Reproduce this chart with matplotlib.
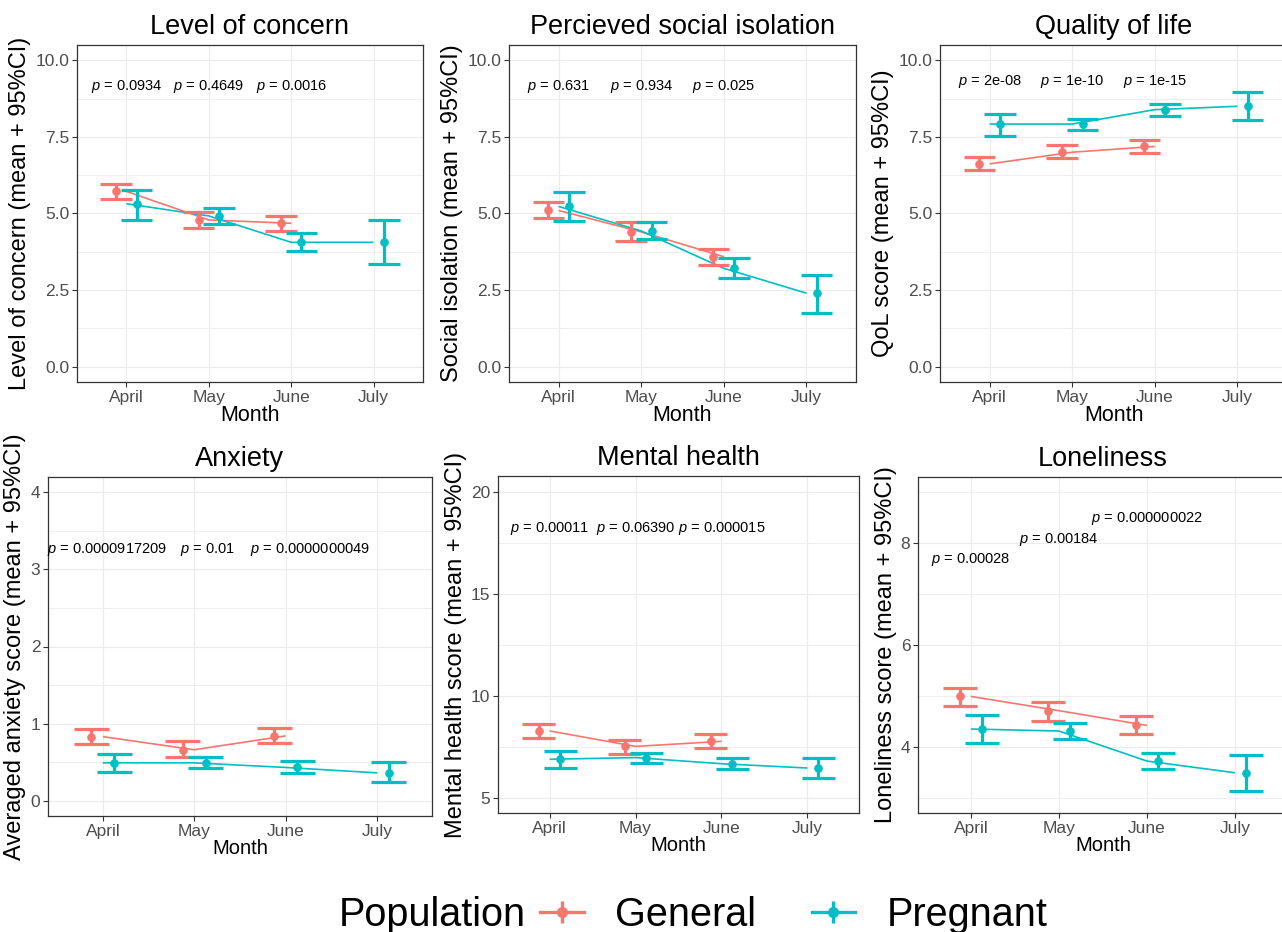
import matplotlib
matplotlib.use("Agg")
import matplotlib.pyplot as plt
from matplotlib.lines import Line2D
import numpy as np

plt.rcParams['font.family'] = ['Liberation Sans', 'DejaVu Sans']
plt.rcParams['mathtext.fontset'] = 'custom'
plt.rcParams['mathtext.rm'] = 'Liberation Sans'
plt.rcParams['mathtext.it'] = 'Liberation Sans:italic'

# ---------------- data ----------------
months = ["April", "May", "June", "July"]
populations = ["General", "Pregnant"]

concern_gen_mean = [5.72, 4.79, 4.68]
concern_gen_lo = [5.47, 4.54, 4.42]
concern_gen_hi = [5.96, 5.04, 4.91]
concern_preg_mean = [5.32, 4.92, 4.06, 4.06]
concern_preg_lo = [4.79, 4.67, 3.78, 3.36]
concern_preg_hi = [5.78, 5.17, 4.35, 4.79]
concern_p = ["0.0934", "0.4649", "0.0016"]

social_gen_mean = [5.10, 4.40, 3.59]
social_gen_lo = [4.85, 4.11, 3.32]
social_gen_hi = [5.36, 4.71, 3.83]
social_preg_mean = [5.23, 4.43, 3.21, 2.40]
social_preg_lo = [4.74, 4.16, 2.91, 1.76]
social_preg_hi = [5.70, 4.71, 3.54, 2.98]
social_p = ["0.631", "0.934", "0.025"]

qol_gen_mean = [6.62, 7.00, 7.19]
qol_gen_lo = [6.41, 6.80, 6.96]
qol_gen_hi = [6.84, 7.22, 7.41]
qol_preg_mean = [7.92, 7.92, 8.39, 8.50]
qol_preg_lo = [7.52, 7.73, 8.17, 8.05]
qol_preg_hi = [8.25, 8.09, 8.58, 8.95]
qol_p = ["2e-08", "1e-10", "1e-15"]

anx_gen_mean = [0.83, 0.66, 0.84]
anx_gen_lo = [0.74, 0.57, 0.75]
anx_gen_hi = [0.93, 0.77, 0.94]
anx_preg_mean = [0.49, 0.49, 0.43, 0.36]
anx_preg_lo = [0.37, 0.42, 0.36, 0.24]
anx_preg_hi = [0.60, 0.56, 0.51, 0.50]
anx_p = ["0.0000917209", "0.01", "0.0000000049"]

mh_gen_mean = [8.28, 7.52, 7.77]
mh_gen_lo = [7.93, 7.16, 7.46]
mh_gen_hi = [8.64, 7.82, 8.11]
mh_preg_mean = [6.89, 6.97, 6.67, 6.46]
mh_preg_lo = [6.48, 6.70, 6.39, 5.98]
mh_preg_hi = [7.30, 7.21, 6.97, 6.97]
mh_p = ["0.00011", "0.06390", "0.000015"]

lon_gen_mean = [4.99, 4.71, 4.42]
lon_gen_lo = [4.81, 4.50, 4.25]
lon_gen_hi = [5.16, 4.88, 4.60]
lon_preg_mean = [4.35, 4.31, 3.72, 3.49]
lon_preg_lo = [4.07, 4.16, 3.57, 3.14]
lon_preg_hi = [4.63, 4.46, 3.87, 3.84]
lon_p = ["0.00028", "0.00184", "0.000000022"]

# ---------------- styling / layout ----------------
COL_GEN = "#F8766D"
COL_PREG = "#00BFC4"
W, H = 1282, 932

def rect(l, r, t, b):
    return [l / W, (H - b) / H, (r - l) / W, (b - t) / H]

panels = [
    dict(title="Level of concern", ylabel="Level of concern (mean + 95%CI)",
         gen=(concern_gen_mean, concern_gen_lo, concern_gen_hi),
         preg=(concern_preg_mean, concern_preg_lo, concern_preg_hi),
         p=concern_p, px=[1, 2, 3], py=[9.15, 9.15, 9.15],
         ylim=(-0.5, 10.5), yt=[0, 2.5, 5, 7.5, 10], ytl=["0.0", "2.5", "5.0", "7.5", "10.0"],
         minor=[1.25, 3.75, 6.25, 8.75], pos=rect(77, 423, 45, 382), xl=15.5),
    dict(title="Percieved social isolation", ylabel="Social isolation (mean + 95%CI)",
         gen=(social_gen_mean, social_gen_lo, social_gen_hi),
         preg=(social_preg_mean, social_preg_lo, social_preg_hi),
         p=social_p, px=[1, 2, 3], py=[9.15, 9.15, 9.15],
         ylim=(-0.5, 10.5), yt=[0, 2.5, 5, 7.5, 10], ytl=["0.0", "2.5", "5.0", "7.5", "10.0"],
         minor=[1.25, 3.75, 6.25, 8.75], pos=rect(509, 856, 45, 382), xl=15.5),
    dict(title="Quality of life", ylabel="QoL score (mean + 95%CI)",
         gen=(qol_gen_mean, qol_gen_lo, qol_gen_hi),
         preg=(qol_preg_mean, qol_preg_lo, qol_preg_hi),
         p=qol_p, px=[1, 2, 3], py=[9.3, 9.3, 9.3],
         ylim=(-0.5, 10.5), yt=[0, 2.5, 5, 7.5, 10], ytl=["0.0", "2.5", "5.0", "7.5", "10.0"],
         minor=[1.25, 3.75, 6.25, 8.75], pos=rect(940, 1287, 45, 382), xl=15.5),
    dict(title="Anxiety", ylabel="Averaged anxiety score (mean + 95%CI)",
         gen=(anx_gen_mean, anx_gen_lo, anx_gen_hi),
         preg=(anx_preg_mean, anx_preg_lo, anx_preg_hi),
         p=anx_p, px=[1.04, 2.14, 3.27], py=[3.26, 3.26, 3.26],
         ylim=(-0.2, 4.2), yt=[0, 1, 2, 3, 4], ytl=["0", "1", "2", "3", "4"],
         minor=[0.5, 1.5, 2.5, 3.5], pos=rect(48, 432, 477, 816), xl=14.5),
    dict(title="Mental health", ylabel="Mental health score (mean + 95%CI)",
         gen=(mh_gen_mean, mh_gen_lo, mh_gen_hi),
         preg=(mh_preg_mean, mh_preg_lo, mh_preg_hi),
         p=mh_p, px=[1, 2, 3], py=[18.2, 18.2, 18.2],
         ylim=(4.25, 20.8), yt=[5, 10, 15, 20], ytl=["5", "10", "15", "20"],
         minor=[7.5, 12.5, 17.5], pos=rect(498, 859, 476, 813), xl=14.5),
    dict(title="Loneliness", ylabel="Loneliness score (mean + 95%CI)",
         gen=(lon_gen_mean, lon_gen_lo, lon_gen_hi),
         preg=(lon_preg_mean, lon_preg_lo, lon_preg_hi),
         p=lon_p, px=[1, 2, 3], py=[7.67, 8.08, 8.48],
         ylim=(2.7, 9.3), yt=[4, 6, 8], ytl=["4", "6", "8"],
         minor=[3, 5, 7, 9], pos=rect(918, 1288, 477, 813), xl=14.5),
]

fig = plt.figure(figsize=(W / 100, H / 100), dpi=100)

DODGE = 0.125
CAP = 0.19

def draw_series(ax, mean, lo, hi, color, offset):
    x = np.arange(1, len(mean) + 1)
    ax.plot(x, mean, color=color, lw=1.2, zorder=3, solid_capstyle='butt')
    xd = x + offset
    ax.vlines(xd, lo, hi, color=color, lw=2.3, zorder=4)
    ax.hlines(lo, xd - CAP, xd + CAP, color=color, lw=2.3, zorder=4)
    ax.hlines(hi, xd - CAP, xd + CAP, color=color, lw=2.3, zorder=4)
    ax.plot(xd, mean, 'o', color=color, ms=5.2, zorder=5)

for pnl in panels:
    ax = fig.add_axes(pnl["pos"])
    ax.set_facecolor("white")
    draw_series(ax, *pnl["gen"], COL_GEN, -DODGE)
    draw_series(ax, *pnl["preg"], COL_PREG, DODGE)
    for s, xx, yy in zip(pnl["p"], pnl["px"], pnl["py"]):
        ax.text(xx, yy, r"$\it{p}$ = " + s, ha="center", va="center",
                fontsize=10.5, color="black", zorder=6)
    ax.set_xlim(0.4, 4.6)
    ax.set_ylim(*pnl["ylim"])
    ax.set_xticks(range(1, len(months) + 1))
    ax.set_xticklabels(months)
    ax.set_yticks(pnl["yt"])
    ax.set_yticklabels(pnl["ytl"])
    ax.set_yticks(pnl["minor"], minor=True)
    ax.grid(which="major", color="#EBEBEB", lw=0.8, zorder=0)
    ax.grid(which="minor", axis="y", color="#EBEBEB", lw=0.6, zorder=0)
    ax.set_axisbelow(True)
    ax.tick_params(which="major", length=3.5, width=0.8, color="#333333",
                   labelsize=12.5, labelcolor="#4D4D4D", pad=2)
    ax.tick_params(which="minor", length=0)
    for sp in ax.spines.values():
        sp.set_color("#333333")
        sp.set_linewidth(0.9)
    ax.set_title(pnl["title"], fontsize=19.5, pad=8, color="black")
    ax.set_ylabel(pnl["ylabel"], fontsize=17, labelpad=3, color="black")
    ax.set_xlabel("Month", fontsize=pnl["xl"], labelpad=0, color="black")

# legend
handles = []
for col in (COL_GEN, COL_PREG):
    h_line = Line2D([], [], color=col, lw=2.4)
    h_pt = Line2D([], [], color=col, marker='o', ms=7, lw=0)
    h_bar = Line2D([], [], color=col, marker='|', ms=16, mew=2.4, lw=0)
    handles.append((h_line, h_bar, h_pt))
fig.text(432 / W, (H - 915) / H, "Population", fontsize=28.5, ha="center", va="center")
fig.legend(handles, populations, loc="center left", bbox_to_anchor=(540 / W, (H - 915) / H),
           ncol=2, frameon=False, fontsize=28.5, handlelength=1.1, handletextpad=0.8,
           columnspacing=1.4, borderpad=0, borderaxespad=0)

fig.savefig("out.png", dpi=100)
